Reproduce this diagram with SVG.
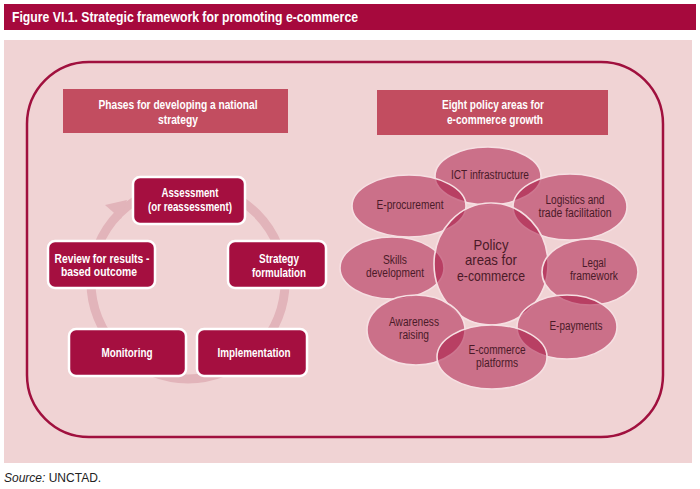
<svg xmlns="http://www.w3.org/2000/svg" width="700" height="489" viewBox="0 0 700 489">
<defs>
<style>
.t{font-family:"Liberation Sans",Arial,sans-serif;}
.title{font-size:15px;font-weight:bold;fill:#fff;}
.hdr{fill:#c24d60;}
.hdrt{font-size:12.5px;font-weight:bold;fill:#fff;text-anchor:middle;}
.node{fill:#a50f40;stroke:#fff;stroke-width:2.5;}
.nodet{font-size:12.5px;font-weight:bold;fill:#fff;text-anchor:middle;}
.ell{fill:#a50d3e;fill-opacity:0.5;stroke:#f6dfe2;stroke-width:1.6;}
.ellt{font-size:12.5px;fill:#4a1a28;text-anchor:middle;}
.big{font-size:14.5px;}
</style>
</defs>
<rect x="0" y="0" width="700" height="489" fill="#fff"/>
<rect x="4" y="4" width="692" height="26" fill="#a6093d"/>
<text class="t title" x="12" y="22" textLength="346" lengthAdjust="spacingAndGlyphs">Figure VI.1. Strategic framework for promoting e-commerce</text>
<rect x="4" y="40" width="688" height="423" fill="#f0d3d4"/>
<rect x="27" y="62" width="636" height="375" rx="62" ry="62" fill="none" stroke="#a0103e" stroke-width="2.5"/>

<g id="header-phases">
<rect class="hdr" x="63" y="89" width="225" height="44"/>
<text class="t hdrt" x="178" y="109" textLength="159" lengthAdjust="spacingAndGlyphs">Phases for developing a national</text>
<text class="t hdrt" x="178" y="124" textLength="40" lengthAdjust="spacingAndGlyphs">strategy</text>
</g>
<g id="header-policy">
<rect class="hdr" x="377" y="90" width="231" height="45"/>
<text class="t hdrt" x="493" y="109" textLength="102" lengthAdjust="spacingAndGlyphs">Eight policy areas for</text>
<text class="t hdrt" x="495" y="124" textLength="96" lengthAdjust="spacingAndGlyphs">e-commerce growth</text>
</g>

<g id="connectors">
<circle cx="188" cy="282" r="97" fill="none" stroke="#e2b4ba" stroke-width="9"/>
<polygon points="127,200 105,205 121,219" fill="#e2b4ba"/>
</g>

<g id="node-assessment">
<rect class="node" x="133" y="177" width="112" height="47" rx="7"/>
<text class="t nodet" x="190" y="197" textLength="57" lengthAdjust="spacingAndGlyphs">Assessment</text>
<text class="t nodet" x="190" y="211" textLength="84" lengthAdjust="spacingAndGlyphs">(or reassessment)</text>
</g>
<g id="node-strategy">
<rect class="node" x="228" y="241" width="98" height="47" rx="7"/>
<text class="t nodet" x="279" y="263" textLength="40" lengthAdjust="spacingAndGlyphs">Strategy</text>
<text class="t nodet" x="279" y="277" textLength="54" lengthAdjust="spacingAndGlyphs">formulation</text>
</g>
<g id="node-implementation">
<rect class="node" x="197" y="329" width="110" height="47" rx="7"/>
<text class="t nodet" x="254" y="357" textLength="73" lengthAdjust="spacingAndGlyphs">Implementation</text>
</g>
<g id="node-monitoring">
<rect class="node" x="69" y="329" width="117" height="47" rx="7"/>
<text class="t nodet" x="127" y="357" textLength="51" lengthAdjust="spacingAndGlyphs">Monitoring</text>
</g>
<g id="node-review">
<rect class="node" x="48" y="241" width="107" height="47" rx="7"/>
<text class="t nodet" x="102" y="263" textLength="95" lengthAdjust="spacingAndGlyphs">Review for results -</text>
<text class="t nodet" x="99" y="276" textLength="76" lengthAdjust="spacingAndGlyphs">based outcome</text>
</g>

<g id="ellipse-ict">
<ellipse class="ell" cx="488" cy="176" rx="53" ry="29"/>
</g>
<g id="ellipse-eproc">
<ellipse class="ell" cx="409" cy="206" rx="57" ry="31"/>
</g>
<g id="ellipse-logistics">
<ellipse class="ell" cx="570" cy="207" rx="57" ry="33"/>
</g>
<g id="ellipse-skills">
<ellipse class="ell" cx="392" cy="268" rx="52" ry="31"/>
</g>
<g id="ellipse-policy">
<ellipse class="ell" cx="491" cy="264" rx="57" ry="61"/>
</g>
<g id="ellipse-legal">
<ellipse class="ell" cx="590" cy="272" rx="48" ry="33"/>
</g>
<g id="ellipse-awareness">
<ellipse class="ell" cx="416" cy="330" rx="49" ry="35"/>
</g>
<g id="ellipse-epay">
<ellipse class="ell" cx="567" cy="327" rx="50" ry="32"/>
</g>
<g id="ellipse-platforms">
<ellipse class="ell" cx="492" cy="357" rx="55" ry="32"/>
</g>

<g id="ellipse-labels">
<text class="t ellt" x="490" y="179" textLength="78" lengthAdjust="spacingAndGlyphs">ICT infrastructure</text>
<text class="t ellt" x="410" y="209" textLength="67" lengthAdjust="spacingAndGlyphs">E-procurement</text>
<text class="t ellt" x="575" y="204" textLength="59" lengthAdjust="spacingAndGlyphs">Logistics and</text>
<text class="t ellt" x="575" y="217" textLength="73" lengthAdjust="spacingAndGlyphs">trade facilitation</text>
<text class="t ellt" x="395" y="264" textLength="24" lengthAdjust="spacingAndGlyphs">Skills</text>
<text class="t ellt" x="395" y="277" textLength="58" lengthAdjust="spacingAndGlyphs">development</text>
<text class="t ellt big" x="491" y="250" textLength="35" lengthAdjust="spacingAndGlyphs">Policy</text>
<text class="t ellt big" x="491" y="265" textLength="52" lengthAdjust="spacingAndGlyphs">areas for</text>
<text class="t ellt big" x="491" y="281" textLength="68" lengthAdjust="spacingAndGlyphs">e-commerce</text>
<text class="t ellt" x="594" y="267" textLength="24" lengthAdjust="spacingAndGlyphs">Legal</text>
<text class="t ellt" x="594" y="280" textLength="48" lengthAdjust="spacingAndGlyphs">framework</text>
<text class="t ellt" x="414" y="326" textLength="50" lengthAdjust="spacingAndGlyphs">Awareness</text>
<text class="t ellt" x="414" y="339" textLength="30" lengthAdjust="spacingAndGlyphs">raising</text>
<text class="t ellt" x="576" y="330" textLength="53" lengthAdjust="spacingAndGlyphs">E-payments</text>
<text class="t ellt" x="497" y="354" textLength="57" lengthAdjust="spacingAndGlyphs">E-commerce</text>
<text class="t ellt" x="497" y="367" textLength="42" lengthAdjust="spacingAndGlyphs">platforms</text>
</g>

<text x="4" y="482" style="font-family:'Liberation Sans',Arial,sans-serif;font-size:12px;fill:#222"><tspan font-style="italic">Source:</tspan> UNCTAD.</text>
</svg>
